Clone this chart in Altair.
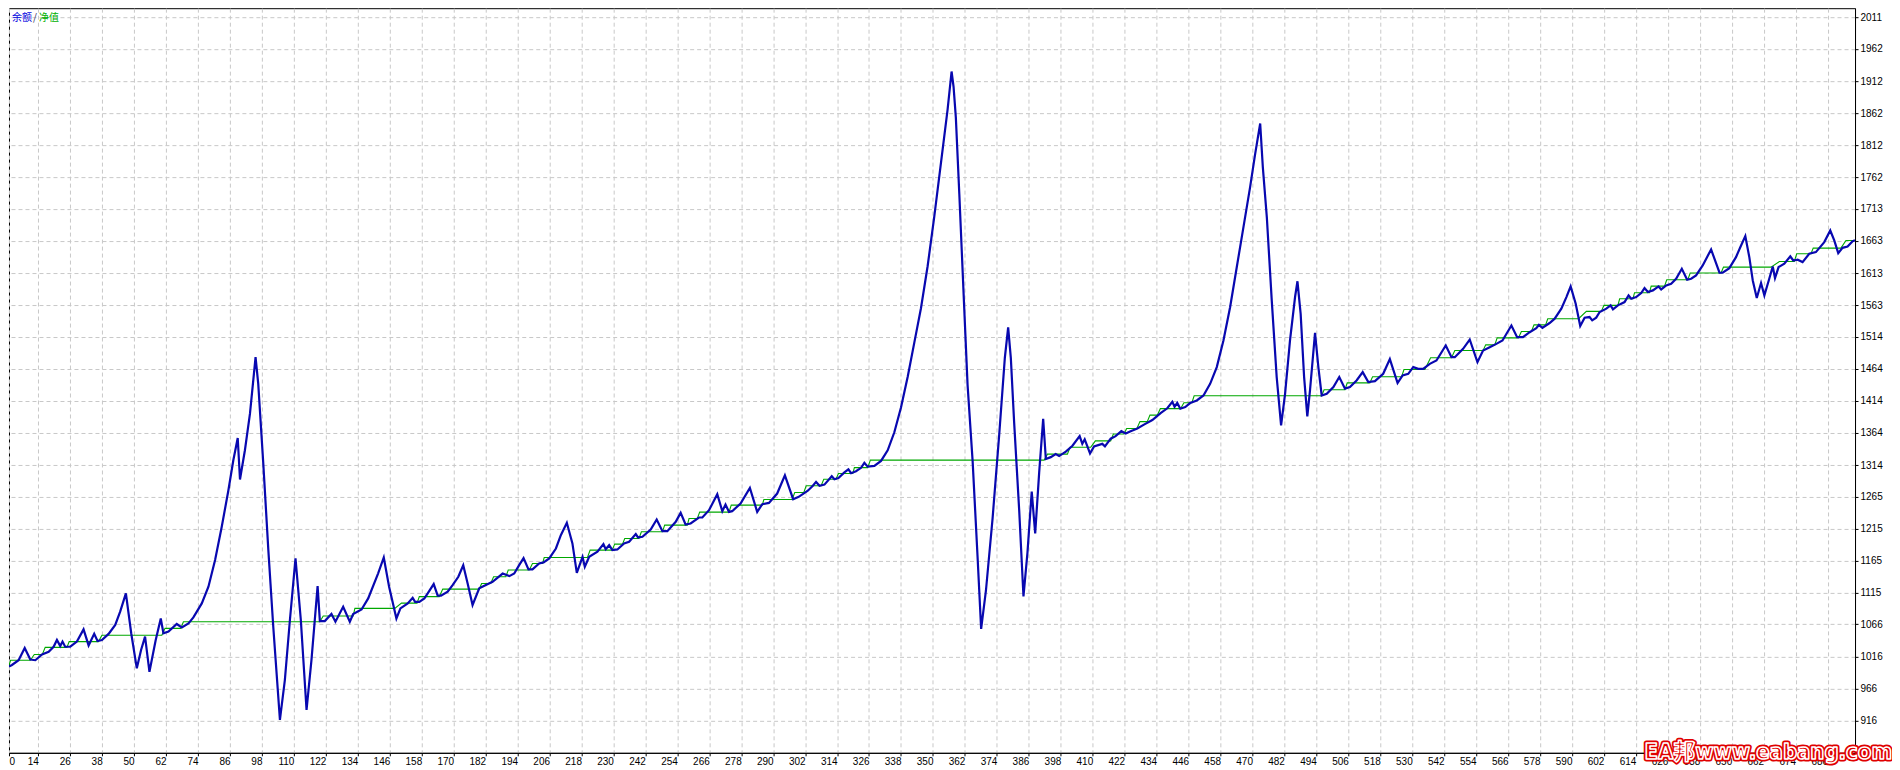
import altair as alt
import pandas as pd

# ---- equity / balance data (trade number, account value) ----
blue_x = [3, 4.1, 6.6, 8.9, 11, 12.9, 15.4, 17.9, 19.75, 21, 22.25, 23.1, 24.1, 26, 28.5, 31, 32.9, 35, 36.25, 37.9,
          40.4, 42.9, 44.75, 46.9, 48.9, 51, 52.6, 54.1, 55.75, 58.1, 60, 61, 62.9, 66, 67.9, 70.4, 72.25, 75.4,
          77.9, 80.4, 82.9, 85.4, 87.25, 88.9, 89.75, 91.6, 93.5, 95.6, 96.6, 98.5, 100.4, 102.25, 104.75, 106.6,
          108.5, 110.6, 112.6, 114.75, 116.6, 118.9, 119.75, 121.6, 124.1, 125.6, 128.5, 131, 132.25, 135.4, 137.9,
          141.6, 143.75, 145.75, 148.5, 150, 152.75, 154.6, 155.5, 157.1, 159, 160.25, 162.5, 164, 165.25, 167.75,
          169.6, 171.75, 173.6, 175.25, 177.1, 179.6, 182.1, 184.6, 188.4, 190.9, 192.75, 194.6, 196.25, 198.1,
          199.6, 202.1, 203.75, 205.9, 208.4, 210.25, 212.5, 214.6, 216.25, 218.4, 219.25, 220.9, 224, 226.25,
          227.1, 228.4, 229.6, 231.5, 234, 235.9, 238.4, 239.25, 240.9, 244, 246.25, 248.4, 250.25, 253.4, 255.25,
          257.1, 259, 262.1, 263.4, 265.9, 269, 270.9, 272.1, 273.4, 274.6, 277.75, 281.25, 284, 285.9, 288.4,
          291.5, 294.4, 297.5, 299.6, 303, 304.9, 306.1, 307.4, 309.25, 312, 313, 314.5, 316.75, 318.25, 319.25,
          321.1, 323, 324.25, 325.5, 328, 330.5, 333, 335.5, 338, 340.5, 343, 345.5, 348, 350.5, 353, 355.5, 357,
          357.75, 358.6, 359.9, 361.75, 363, 364.9, 366.75, 368.1, 369.9, 372.4, 374.9, 377, 378.25, 379.25, 380.5,
          382.4, 384, 385.5, 387.1, 388.4, 389.9, 391.4, 392.4, 394.25, 396.1, 397.4, 399.9, 402.4, 405.1, 406.1,
          407, 409, 410.5, 413.6, 414.6, 416.75, 418.6, 420.75, 422.4, 424.25, 426.75, 429.25, 432.4, 435.5, 438,
          439.9, 440.75, 441.75, 442.9, 444.75, 446.6, 449.1, 451.6, 454.1, 456.6, 459.1, 461.6, 464.1, 466.6,
          469.1, 471, 472.9, 473.9, 475.4, 477.25, 479.1, 480.75, 482.25, 484.1, 486, 486.9, 488.1, 489.4, 490.6,
          491.6, 493.5, 494.75, 496, 497.9, 500.4, 502.6, 504.75, 506.6, 509.1, 511.4, 513.5, 516, 519.1, 521.6,
          524.5, 526.4, 528.5, 530.4, 532.25, 534.1, 536.6, 539.1, 542.6, 544.75, 546, 549.1, 551.6, 554.5, 556.6,
          559.1, 561.6, 563.9, 567.25, 569.4, 571.6, 574.1, 576.6, 577.6, 578.9, 581.6, 583.5, 586, 587.9, 589.5,
          591.4, 593.1, 594.75, 596.6, 597.6, 599.1, 600.4, 602.9, 604.5, 605.4, 607.25, 609.75, 611.25, 612.25,
          614.1, 616, 617.25, 618.5, 620.4, 622.5, 623.5, 625.4, 627.25, 629.1, 631.25, 633.25, 634.75, 636.6,
          639.1, 642.25, 645.4, 646.6, 649.1, 651.6, 653.5, 655.1, 656.6, 657.9, 659.4, 661, 662.25, 663.9, 665.4,
          666.25, 667.6, 669.75, 672, 673.1, 674.75, 676.6, 679.1, 681.6, 684.75, 687, 688.5, 690, 691.6, 693.5,
          695.4, 696.3]
blue_v = [1000, 1002.6, 1010, 1029, 1011, 1010, 1019, 1023, 1031, 1041.5, 1032, 1039, 1031, 1031, 1039, 1058, 1033,
          1051, 1040, 1041.5, 1051, 1065, 1085.6, 1114, 1052, 997.4, 1026, 1046.7, 992, 1041.5, 1075, 1052, 1054.5,
          1066.4, 1061, 1067.4, 1076.7, 1098.5, 1124.4, 1166, 1217.8, 1274.8, 1321.4, 1356.2, 1291.4, 1337, 1394,
          1482, 1440.7, 1316.3, 1181.5, 1062.2, 917, 979, 1072.6, 1168.5, 1072.6, 932.6, 1010.4, 1125.5, 1071, 1071,
          1082, 1070, 1093.3, 1070, 1082, 1089, 1106.3, 1145, 1170, 1124.4, 1075, 1090.7, 1098.5, 1107.3, 1101,
          1101, 1106.3, 1114, 1128.6, 1110.5, 1110.5, 1116.7, 1127, 1140, 1158, 1129.6, 1096, 1122, 1127, 1132.2,
          1145, 1141, 1145, 1158, 1169, 1151.4, 1151.4, 1160.7, 1162.3, 1168.5, 1184, 1204.8, 1224, 1192, 1146,
          1171, 1155.5, 1171, 1179, 1190.8, 1183, 1189.2, 1181.5, 1182.5, 1191.8, 1194.4, 1206.4, 1201.2, 1202.2,
          1213.6, 1229.2, 1211, 1211, 1225.5, 1239.5, 1221.4, 1223, 1232.3, 1232.3, 1243.7, 1268.6, 1242.1, 1252.5,
          1241, 1242.1, 1254, 1278.4, 1241, 1253, 1255, 1269.6, 1298, 1260.8, 1264.4, 1274, 1281.7, 1287.7, 1281.7,
          1283.5, 1296.6, 1291.8, 1293.6, 1302.5, 1307.3, 1301.3, 1304.3, 1309.7, 1317.4, 1311.5, 1312.6, 1320.4,
          1337, 1365, 1403.6, 1451.2, 1504.7, 1558.2, 1623.6, 1700.9, 1784.2, 1867.4, 1926.9, 1903, 1855.5, 1736.6,
          1558.2, 1439.3, 1320.4, 1171.7, 1058.7, 1118.2, 1231, 1362, 1481, 1528.5, 1481, 1380, 1243, 1109.3,
          1177.7, 1272.8, 1207.4, 1302.5, 1385.8, 1323.4, 1326.3, 1331, 1328, 1335, 1344, 1359, 1347, 1354, 1332,
          1343, 1347, 1343, 1355, 1359, 1366.7, 1363, 1366.7, 1370.9, 1376.9, 1384, 1394.7, 1402.4, 1412.5, 1404.8,
          1410.7, 1401.7, 1404.3, 1410.5, 1414.6, 1422.4, 1440.5, 1466.5, 1508, 1559.8, 1622, 1684.2, 1746.4,
          1798.2, 1846, 1777.5, 1699.7, 1570, 1451, 1375.7, 1425, 1508, 1575.7, 1600.2, 1549.4, 1451, 1389.8, 1430,
          1519.9, 1466.5, 1422.4, 1425, 1435.4, 1451, 1433, 1435.4, 1445.7, 1458.7, 1443.2, 1444.7, 1456.1, 1478.9,
          1441.6, 1453.5, 1456.1, 1466.5, 1463.9, 1463.9, 1471.6, 1476.8, 1500.2, 1482, 1482, 1495, 1509.5, 1474.2,
          1492.4, 1497.6, 1502.7, 1507.9, 1531.3, 1513.1, 1513.1, 1520.9, 1527, 1532.3, 1527.5, 1535.2, 1541.9,
          1557.5, 1575.6, 1592.2, 1565.3, 1530.5, 1543.5, 1544.5, 1539.3, 1543.5, 1552.3, 1557.5, 1562.7, 1556.4,
          1562.7, 1567.8, 1578.2, 1573, 1575.6, 1581.8, 1589.6, 1583.4, 1586, 1592.2, 1587.5, 1593.8, 1596.4,
          1604.1, 1619.7, 1602.6, 1604.1, 1609.3, 1624.9, 1649.8, 1613.5, 1613.5, 1620.7, 1637.8, 1656, 1670.5,
          1637.8, 1601.5, 1574.1, 1597.4, 1578.2, 1601.5, 1623.3, 1605.2, 1622.3, 1627.5, 1638.9, 1632.6, 1633.7,
          1630.1, 1643, 1645.6, 1661.2, 1679.3, 1663.8, 1644, 1652.3, 1654.4, 1662.7, 1664]

green_x = [3, 3.6, 11, 12.5, 15.5, 16.6, 24.75, 25.6, 36.6, 37.9, 60.4, 61.6, 67.5, 68.5, 119.75, 121, 132.25,
           132.9, 147.9, 150.4, 156.25, 157.1, 164.6, 165.9, 179.6, 180.5, 183.9, 185, 189.6, 190.5, 198.4, 199.6,
           203.4, 204, 220.25, 221.25, 229.5, 230.5, 233.4, 234.25, 239.6, 240.5, 248.4, 249.25, 257.75, 258.4,
           261.5, 262.4, 273.4, 274.25, 285.9, 286.5, 297.1, 298.1, 301.5, 302.4, 308, 309, 313.6, 314.5, 319.9,
           320.5, 325.5, 326.5, 391.75, 393, 400.5, 401.5, 409.25, 411, 416.75, 417.75, 421.75, 422.75, 426.6,
           427.75, 430.5, 431.5, 434.25, 435.4, 443, 444.25, 447.25, 448.1, 496, 496.9, 504.75, 505.6, 514.1,
           515.1, 526, 526.9, 534.75, 536.9, 544.75, 546, 556.6, 557.6, 561, 561.9, 569.9, 571, 574.75, 575.75,
           580.1, 580.9, 592.5, 595.4, 601, 602, 607.25, 607.9, 612.9, 613.5, 619.1, 619.75, 624.75, 625.6, 633.5,
           634.4, 646, 646.9, 664.75, 667.9, 673.5, 674.4, 679.75, 680.6, 691, 692.9, 696.3]
green_v = [1002, 1010, 1010, 1019, 1019, 1030, 1030, 1039, 1039, 1049, 1049, 1059.6, 1059.6, 1070, 1070, 1078.8,
           1078.8, 1090.7, 1090.7, 1099, 1099, 1109, 1109, 1120.8, 1120.8, 1129.6, 1129.6, 1140, 1140, 1150.4,
           1150.4, 1160.7, 1160.7, 1170, 1170, 1181.5, 1181.5, 1190.8, 1190.8, 1199.6, 1199.6, 1210, 1210, 1220.4,
           1220.4, 1230.7, 1230.7, 1240.6, 1240.6, 1251.5, 1251.5, 1260.3, 1260.3, 1271.2, 1271.2, 1281.7, 1281.7,
           1291.8, 1291.8, 1300.7, 1300.7, 1310, 1310, 1321.6, 1321.6, 1331, 1331, 1341.6, 1341.6, 1351.6, 1351.6,
           1362.3, 1362.3, 1371, 1371, 1381.6, 1381.6, 1391.7, 1391.7, 1401.8, 1401.8, 1411, 1411, 1421.9, 1421.9,
           1431.2, 1431.2, 1442, 1442, 1451.4, 1451.4, 1462.8, 1462.8, 1481, 1481, 1492.4, 1492.4, 1501.2, 1501.2,
           1512.1, 1512.1, 1522, 1522, 1532.3, 1532.3, 1541.9, 1541.9, 1553.3, 1553.3, 1562.7, 1562.7, 1573, 1573,
           1582.4, 1582.4, 1592.7, 1592.7, 1602.6, 1602.6, 1613, 1613, 1622.3, 1622.3, 1631.1, 1631.1, 1643, 1643,
           1651.8, 1651.8, 1663.8, 1663.8]

x_ticks = [3, 14, 26, 38, 50, 62, 74, 86, 98, 110, 122, 134, 146, 158, 170, 182, 194, 206, 218, 230, 242, 254,
           266, 278, 290, 302, 314, 326, 338, 350, 362, 374, 386, 398, 410, 422, 434, 446, 458, 470, 482, 494,
           506, 518, 530, 542, 554, 566, 578, 590, 602, 614, 626, 638, 650, 662, 674, 686]
y_ticks = [916, 966, 1016, 1066, 1115, 1165, 1215, 1265, 1314, 1364, 1414, 1464, 1514, 1563, 1613, 1663, 1713,
           1762, 1812, 1862, 1912, 1962, 2011]

legend_parts = ["余额", "/", "净值"]
legend_colors = ["#0000E0", "#303060", "#00B000"]
watermark = "EA邦www.eabang.com"

blue = pd.DataFrame({"x": blue_x, "v": blue_v})
green = pd.DataFrame({"x": green_x, "v": green_v})

FONT = "Liberation Sans"
xscale = alt.Scale(domain=[3, 696.3], nice=False, zero=False)
yscale = alt.Scale(domain=[865.8, 2025.5], nice=False, zero=False)

xaxis = alt.Axis(values=x_ticks, title=None, format="d",
                 labelExpr="datum.value < 10 ? '0' : datum.label",
                 labelAlign={"condition": {"test": "datum.value < 10", "value": "left"}, "value": "right"},
                 labelFont=FONT, labelFontSize=10, labelColor="black", labelPadding=1, labelOverlap=False,
                 labelFlush=False,
                 grid=True, gridColor="#C8C8C8", gridDash=[4, 3], gridWidth=1,
                 domainColor="black", tickColor="black", tickSize=3)
yaxis = alt.Axis(values=y_ticks, title=None, format="d", orient="right",
                 labelFont=FONT, labelFontSize=10, labelColor="black", labelPadding=2, labelOverlap=False,
                 labelFlush=False, labelBaseline="middle",
                 grid=True, gridColor="#C8C8C8", gridDash=[4, 3], gridWidth=1,
                 domainColor="black", tickColor="black", tickSize=3)

X = alt.X("x:Q", scale=xscale, axis=xaxis)
Y = alt.Y("v:Q", scale=yscale, axis=yaxis)

green_line = alt.Chart(green).mark_line(color="#00A800", strokeWidth=1.1, clip=True).encode(x=X, y=Y)
blue_line = alt.Chart(blue).mark_line(color="#0808B0", strokeWidth=2.2, clip=True).encode(x=X, y=Y)

one = pd.DataFrame({"a": [0]})
leg_x = [3, 24, 30]
legend_layers = [
    alt.Chart(one).mark_text(align="left", baseline="middle", font="Noto Sans CJK SC", fontSize=10,
                             color=c).encode(x=alt.value(lx), y=alt.value(10), text=alt.value(t))
    for t, c, lx in zip(legend_parts, legend_colors, leg_x)
]

WM_FONT = "Liberation Sans Narrow, DejaVu Sans Condensed, Noto Sans CJK SC"
# outer red ring + white fill, then red fill with thin white outline
wm_outer = alt.Chart(one).mark_text(
    align="right", baseline="alphabetic", fontSize=22, fontWeight="bold", font=WM_FONT,
    color="white", stroke="#E00000", strokeWidth=5, strokeJoin="round").encode(
    x=alt.value(1884), y=alt.value(751), text=alt.value(watermark))
wm_inner = alt.Chart(one).mark_text(
    align="right", baseline="alphabetic", fontSize=22, fontWeight="bold", font=WM_FONT,
    color="#E00000", stroke="white", strokeWidth=1.5, strokeJoin="round").encode(
    x=alt.value(1884), y=alt.value(751), text=alt.value(watermark))

chart = alt.layer(green_line, blue_line, *legend_layers, wm_outer, wm_inner).properties(
    width=1847, height=745, padding=0, background="white"
).configure_view(stroke="black", strokeWidth=1)

chart.save("out.html", embed_options={"renderer": "svg", "actions": False})
